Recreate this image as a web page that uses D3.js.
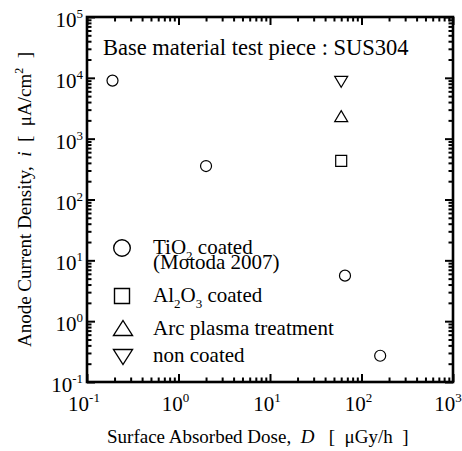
<!DOCTYPE html>
<html>
<head>
<meta charset="utf-8">
<script src="https://cdn.jsdelivr.net/npm/d3@7"></script>
<style>
  html, body { margin: 0; padding: 0; background: #fff; }
  svg { display: block; font-family: "Liberation Serif", "Times New Roman", serif; }
</style>
</head>
<body>
<svg id="chart" width="462" height="451"></svg>
<script>
// Anode current density versus surface absorbed dose (log-log)
const xDecades = [-1, 0, 1, 2, 3];
const yDecades = [-1, 0, 1, 2, 3, 4, 5];

const tioDose = [0.19, 2.0, 66, 160];
const tioCurrent = [9000, 355, 5.6, 0.27];
const al2o3Dose = [60];
const al2o3Current = [430];
const arcDose = [60];
const arcCurrent = [2350];
const nonCoatedDose = [60];
const nonCoatedCurrent = [8600];

const svg = d3.select("#chart");
const plotL = 87, plotR = 453, plotT = 17, plotB = 382;

const x = d3.scaleLog().domain([0.1, 1000]).range([plotL, plotR]);
const y = d3.scaleLog().domain([0.1, 1e5]).range([plotB, plotT]);

// minor tick positions: 2..9 within each decade
function minorValues(decades) {
  const out = [];
  for (let i = 0; i < decades.length - 1; i++) {
    for (let m = 2; m <= 9; m++) out.push(m * Math.pow(10, decades[i]));
  }
  return out;
}
const xMajor = xDecades.map(d => Math.pow(10, d));
const yMajor = yDecades.map(d => Math.pow(10, d));
const xMinor = minorValues(xDecades);
const yMinor = minorValues(yDecades);

const axisStyle = g => {
  g.select(".domain").remove();
  g.selectAll(".tick line").attr("stroke", "#000").attr("stroke-width", 2);
  g.selectAll(".tick text").remove();
};

// inward ticks on all four sides
const majorLen = 8, minorLen = 4.5;
svg.append("g").attr("transform", `translate(0,${plotB})`)
  .call(d3.axisBottom(x).tickValues(xMajor).tickSize(-majorLen)).call(axisStyle);
svg.append("g").attr("transform", `translate(0,${plotB})`)
  .call(d3.axisBottom(x).tickValues(xMinor).tickSize(-minorLen)).call(axisStyle);
svg.append("g").attr("transform", `translate(0,${plotT})`)
  .call(d3.axisTop(x).tickValues(xMajor).tickSize(-majorLen)).call(axisStyle);
svg.append("g").attr("transform", `translate(0,${plotT})`)
  .call(d3.axisTop(x).tickValues(xMinor).tickSize(-minorLen)).call(axisStyle);
svg.append("g").attr("transform", `translate(${plotL},0)`)
  .call(d3.axisLeft(y).tickValues(yMajor).tickSize(-majorLen)).call(axisStyle);
svg.append("g").attr("transform", `translate(${plotL},0)`)
  .call(d3.axisLeft(y).tickValues(yMinor).tickSize(-minorLen)).call(axisStyle);
svg.append("g").attr("transform", `translate(${plotR},0)`)
  .call(d3.axisRight(y).tickValues(yMajor).tickSize(-majorLen)).call(axisStyle);
svg.append("g").attr("transform", `translate(${plotR},0)`)
  .call(d3.axisRight(y).tickValues(yMinor).tickSize(-minorLen)).call(axisStyle);

// plot frame
svg.append("rect")
  .attr("x", plotL).attr("y", plotT)
  .attr("width", plotR - plotL).attr("height", plotB - plotT)
  .attr("fill", "none").attr("stroke", "#000").attr("stroke-width", 2.6);

// power-of-ten tick labels
function powerLabel(g, exp, px, py, anchor) {
  const t = g.append("text").attr("x", px).attr("y", py)
    .attr("text-anchor", anchor).attr("font-size", 21).attr("fill", "#000");
  t.append("tspan").text("10");
  t.append("tspan").attr("font-size", 13).attr("dy", -9).text(exp);
  return t;
}
const labels = svg.append("g");
xDecades.forEach(d => {
  const px = Math.min(x(Math.pow(10, d)) - 3, 448);
  powerLabel(labels, d, px, 411, "middle");
});
yDecades.forEach(d => powerLabel(labels, d, plotL - 4, y(Math.pow(10, d)) + 10, "end"));

// axis titles
const xt = svg.append("text").attr("x", 107).attr("y", 443)
  .attr("font-size", 19).attr("xml:space", "preserve");
xt.append("tspan").text("Surface Absorbed Dose,  ");
xt.append("tspan").attr("font-style", "italic").text("D");
xt.append("tspan").text("   [  \u03bcGy/h  ]");

const yt = svg.append("text")
  .attr("transform", `translate(31,${(plotT + plotB) / 2}) rotate(-90)`)
  .attr("text-anchor", "middle").attr("font-size", 19).attr("xml:space", "preserve");
yt.append("tspan").text("Anode Current Density,  ");
yt.append("tspan").attr("font-style", "italic").text("i");
yt.append("tspan").text("  [  \u03bcA/cm");
yt.append("tspan").attr("font-size", 12).attr("dy", -8).text("2");
yt.append("tspan").attr("dy", 8).text("  ]");

svg.append("text").attr("x", 103).attr("y", 55).attr("font-size", 22.5)
  .text("Base material test piece : SUS304");

// marker shapes
function markerPath(type, w, h) {
  const a = w / 2, b = h / 2;
  if (type === "square") return `M${-a},${-b}H${a}V${b}H${-a}Z`;
  if (type === "up") return `M0,${-b}L${a},${b}L${-a},${b}Z`;
  if (type === "down") return `M0,${b}L${a},${-b}L${-a},${-b}Z`;
  return null;
}
function drawSeries(xs, ys, type, w, h) {
  const pts = xs.map((d, i) => [x(d), y(ys[i])]);
  const g = svg.append("g");
  if (type === "circle") {
    g.selectAll("circle").data(pts).join("circle")
      .attr("cx", d => d[0]).attr("cy", d => d[1]).attr("r", w / 2)
      .attr("fill", "none").attr("stroke", "#000").attr("stroke-width", 1.2);
  } else {
    g.selectAll("path").data(pts).join("path")
      .attr("transform", d => `translate(${d[0]},${d[1]})`)
      .attr("d", markerPath(type, w, h))
      .attr("fill", "none").attr("stroke", "#000").attr("stroke-width", 1.2);
  }
}
drawSeries(tioDose, tioCurrent, "circle", 11);
drawSeries(al2o3Dose, al2o3Current, "square", 11, 11);
drawSeries(arcDose, arcCurrent, "up", 13, 11);
drawSeries(nonCoatedDose, nonCoatedCurrent, "down", 13, 11);

// legend
const lg = svg.append("g");
const lx = 122, tx = 153, lfs = 21;
const legendStroke = 1.4;
lg.append("circle").attr("cx", lx).attr("cy", 248).attr("r", 8.3)
  .attr("fill", "none").attr("stroke", "#000").attr("stroke-width", legendStroke);
lg.append("path").attr("transform", `translate(${lx},296)`).attr("d", markerPath("square", 15, 15))
  .attr("fill", "none").attr("stroke", "#000").attr("stroke-width", legendStroke);
lg.append("path").attr("transform", `translate(${lx + 1},328)`).attr("d", markerPath("up", 19, 15))
  .attr("fill", "none").attr("stroke", "#000").attr("stroke-width", legendStroke);
lg.append("path").attr("transform", `translate(${lx + 1},357)`).attr("d", markerPath("down", 19, 15))
  .attr("fill", "none").attr("stroke", "#000").attr("stroke-width", legendStroke);

// legend text with chemical subscripts: parts are [text, isSubscript]
function chemLabel(py, parts) {
  const t = lg.append("text").attr("x", tx).attr("y", py).attr("font-size", lfs);
  let shift = 0;
  parts.forEach(([s, sub]) => {
    const span = t.append("tspan").text(s);
    if (sub) {
      span.attr("font-size", 13).attr("dy", 6 - shift);
      shift = 6;
    } else {
      if (shift) span.attr("dy", -shift);
      shift = 0;
    }
  });
  return t;
}
chemLabel(254, [["TiO", false], ["2", true], [" coated", false]]);
lg.append("text").attr("x", tx).attr("y", 269).attr("font-size", lfs).text("(Motoda 2007)");
chemLabel(302, [["Al", false], ["2", true], ["O", false], ["3", true], [" coated", false]]);
chemLabel(335, [["Arc plasma treatment", false]]);
chemLabel(362, [["non coated", false]]);
</script>
</body>
</html>
